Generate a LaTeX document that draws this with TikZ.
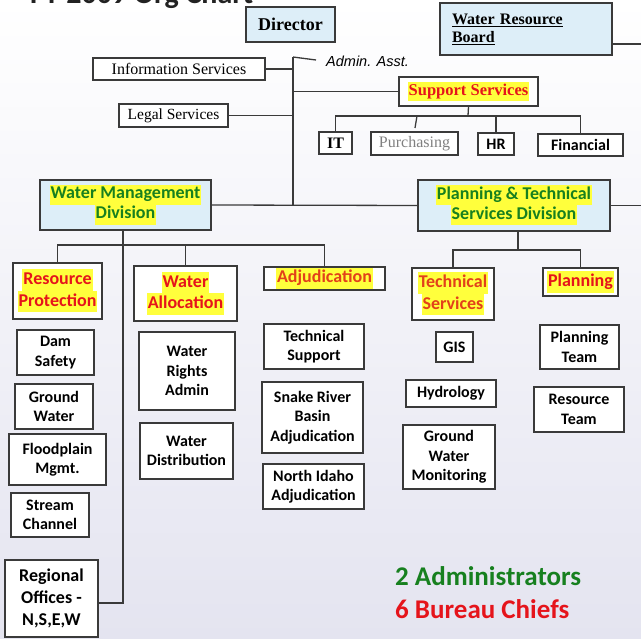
\documentclass[tikz,border=0pt]{standalone}
\usepackage{fontspec}
\setmainfont{Liberation Serif}
\newfontfamily\calfont{Carlito}
\newfontfamily\arialfont{Liberation Sans}
\definecolor{boxline}{HTML}{3A3A3A}
\definecolor{boxblue}{HTML}{DDEEF8}
\definecolor{hlyellow}{HTML}{FFFF3C}
\definecolor{divgreen}{HTML}{17801F}
\definecolor{chiefred}{HTML}{E5141B}
\definecolor{orangered}{HTML}{E2401A}
\definecolor{lavender}{HTML}{E4E4F0}
\definecolor{titlegray}{HTML}{222222}
\newcommand{\hilite}[1]{{\setlength{\fboxsep}{0pt}\colorbox{hlyellow}{\strut\kern1pt#1\kern1pt}}}
\begin{document}
\begin{tikzpicture}[
        x=1pt, y=-1pt,
        box/.style={draw=boxline, line width=1.3pt, fill=white, inner sep=0pt, align=center},
        bluebox/.style={box, fill=boxblue},
        conn/.style={draw=boxline, line width=1.3pt},
        serif/.style={font=\fontsize{16}{19}\selectfont},
        divtext/.style={font=\calfont\bfseries\fontsize{18}{20}\selectfont, text=divgreen},
        chieftext/.style={font=\calfont\bfseries\fontsize{18}{21.5}\selectfont, text=chiefred},
        unittext/.style={font=\calfont\bfseries\fontsize{16}{19.5}\selectfont},
    ]
    \useasboundingbox (0,0) rectangle (641,639);
    \clip (0,0) rectangle (641,639);
    \shade[top color=white, middle color=white, bottom color=lavender] (0,0) rectangle (641,639);
    % title, cut off at the top
    \node[anchor=base west, inner sep=0pt, text=titlegray, font=\calfont\bfseries\fontsize{30}{36}\selectfont] (title) at (30,4) {FY 2009 Org Chart};
    % top level
    \node[bluebox, minimum width=89, minimum height=35, font=\bfseries\fontsize{18}{21}\selectfont] (director) at (290.5,24.5) {Director};
    \node[bluebox, minimum width=172, minimum height=52, text width=148, inner xsep=12pt, align=left, font=\bfseries\fontsize{16}{18}\selectfont] (wrb) at (526,29) {\underline{Water Resource}\\\underline{Board}};
    \node[box, serif, minimum width=172, minimum height=22] (infosvc) at (179,69) {Information Services};
    \node[box, minimum width=109, minimum height=23, font=\fontsize{15.5}{18}\selectfont] (legal) at (173.5,115.5) {Legal Services};
    \node[anchor=west, inner sep=0pt, font=\arialfont\itshape\fontsize{14.5}{17}\selectfont] (admin) at (326,61) {Admin. Asst.};
    \node[box, minimum width=139, minimum height=29, text=chiefred, font=\bfseries\fontsize{16.5}{19}\selectfont] (supp) at (468.5,91.5) {\hilite{Support Services}};
    \node[box, minimum width=33, minimum height=22, font=\bfseries\fontsize{16}{19}\selectfont] (it) at (335.5,143) {IT};
    \node[box, serif, minimum width=87, minimum height=23, text=gray] (purch) at (414.5,143.5) {Purchasing};
    \node[box, unittext, minimum width=36, minimum height=22] (hr) at (496,144) {HR};
    \node[box, unittext, minimum width=85, minimum height=22] (fin) at (580.5,145) {Financial};
    % divisions
    \node[bluebox, divtext, minimum width=171, minimum height=50] (wmd) at (125.5,205) {\hilite{Water Management}\\\hilite{Division}};
    \node[bluebox, divtext, minimum width=192, minimum height=51] (ptsd) at (514,205.5) {\hilite{Planning \& Technical}\\\hilite{Services Division}};
    % bureaus
    \node[box, chieftext, minimum width=89, minimum height=56] (rp) at (57.5,291) {\hilite{Resource}\\\hilite{Protection}};
    \node[box, chieftext, minimum width=103, minimum height=55] (wa) at (185.5,293.5) {\hilite{Water}\\\hilite{Allocation}};
    \node[box, chieftext, text=orangered, minimum width=121, minimum height=23] (adj) at (324.5,278.5) {\hilite{Adjudication}};
    \node[box, chieftext, text=orangered, minimum width=82, minimum height=52] (techsvc) at (453,294) {\hilite{Technical}\\\hilite{Services}};
    \node[box, chieftext, minimum width=75, minimum height=28] (plan) at (580.5,282) {\hilite{Planning}};
    % sections
    \node[box, unittext, minimum width=77, minimum height=45] (dam) at (55.5,352.5) {Dam\\Safety};
    \node[box, unittext, minimum width=78, minimum height=45] (gw) at (54,406.5) {Ground\\Water};
    \node[box, unittext, minimum width=97, minimum height=51] (flood) at (57.5,459.5) {Floodplain\\Mgmt.};
    \node[box, unittext, minimum width=78, minimum height=44] (stream) at (50,515) {Stream\\Channel};
    \node[box, minimum width=93, minimum height=77, font=\calfont\bfseries\fontsize{18}{22}\selectfont] (regional) at (51.5,598.5) {Regional\\Offices -\\N,S,E,W};
    \node[box, unittext, minimum width=96, minimum height=78] (wrights) at (187,371) {Water\\Rights\\Admin};
    \node[box, unittext, minimum width=93, minimum height=56] (wdist) at (186.5,451) {Water\\Distribution};
    \node[box, unittext, minimum width=100, minimum height=45] (techsup) at (314,346.5) {Technical\\Support};
    \node[box, unittext, minimum width=101, minimum height=71] (snake) at (312.5,417.5) {Snake River\\Basin\\Adjudication};
    \node[box, unittext, minimum width=101, minimum height=45] (nidaho) at (313.5,486.5) {North Idaho\\Adjudication};
    \node[box, unittext, minimum width=37, minimum height=30] (gis) at (454.5,347) {GIS};
    \node[box, unittext, minimum width=90, minimum height=27] (hydro) at (451,393.5) {Hydrology};
    \node[box, unittext, minimum width=92, minimum height=64] (gwm) at (449,457) {Ground\\Water\\Monitoring};
    \node[box, unittext, minimum width=79, minimum height=44] (planteam) at (579.5,347) {Planning\\Team};
    \node[box, unittext, minimum width=90, minimum height=45] (resteam) at (579,409.5) {Resource\\Team};
    % summary
    \node[anchor=base west, inner sep=0pt, text=divgreen, font=\calfont\bfseries\fontsize{27}{32}\selectfont] (admins) at (395,585) {2 Administrators};
    \node[anchor=base west, inner sep=0pt, text=chiefred, font=\calfont\bfseries\fontsize{27}{32}\selectfont] (chiefs) at (395,618) {6 Bureau Chiefs};
    % connectors
    \coordinate (spinetop) at (293,57);
    \coordinate (spinebot) at (293,205);
    \coordinate (admindash) at (316,60);
    \coordinate (wrbexit) at (641,44);
    \coordinate (ptsdexit) at (641,205.5);
    \coordinate (suppbar) at (468,116);
    \coordinate (purchtop) at (417,116);
    \coordinate (purchstub) at (415,128);
    \coordinate (wmdbar) at (123,245);
    \coordinate (ptsdbar) at (518,250);
    \draw[conn] (spinetop) -- (spinebot);
    \draw[conn] (spinetop) -- (admindash);
    \draw[conn] (infosvc.east) -- (infosvc.east -| spinetop);
    \draw[conn] (legal.east) -- (legal.east -| spinetop);
    \draw[conn] (supp.west -| spinetop) -- (supp.west);
    \draw[conn] (wrb.east |- wrbexit) -- (wrbexit);
    \draw[conn] (supp.south) -- (suppbar);
    \draw[conn] (it.north) |- (suppbar) -| (fin.north);
    \draw[conn] (hr.north) -- (hr.north |- suppbar);
    \draw[conn] (purchtop) -- (purchstub);
    \draw[conn] (wmd.east) -- (ptsd.west);
    \draw[conn] (ptsd.east) -- (ptsdexit);
    \draw[conn] (wmdbar |- wmd.south) |- ([yshift=-4.5pt]regional.east);
    \draw[conn] (rp.north) |- (wmdbar) -| (adj.north);
    \draw[conn] (wa.north) -- (wa.north |- wmdbar);
    \draw[conn] (ptsdbar |- ptsd.south) -- (ptsdbar);
    \draw[conn] (techsvc.north) |- (ptsdbar) -| (plan.north);
\end{tikzpicture}
\end{document}
